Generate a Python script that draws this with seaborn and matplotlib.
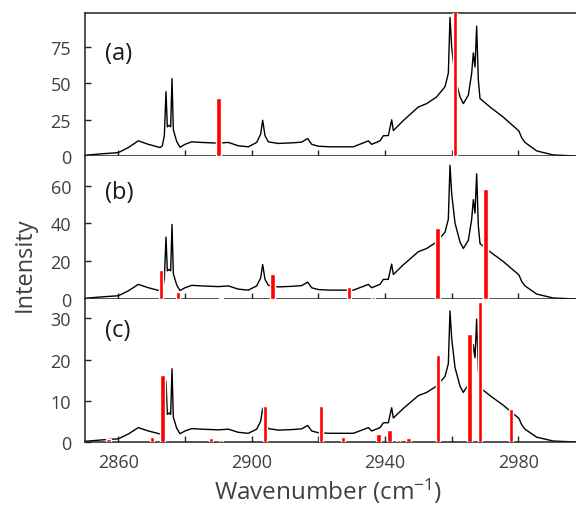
import numpy as np
import pandas as pd
import matplotlib.pyplot as plt
import seaborn as sns
from matplotlib.ticker import MultipleLocator, FixedLocator

# spectrum; panels (b) and (c) show the same trace at lower intensity
wavenumber = [2850, 2855, 2860, 2863, 2866, 2869, 2872.5, 2873.2, 2873.8, 2874.3, 2874.7,
              2875.2, 2875.7, 2876.1, 2876.5, 2877.5, 2878.5, 2880, 2882, 2885, 2890, 2893,
              2896, 2899, 2901.5, 2902.7, 2903.3, 2904, 2905, 2908, 2912, 2915, 2916.8, 2918,
              2920, 2923.5, 2930.5, 2933.5, 2935, 2936, 2938.5, 2939.5, 2941, 2942, 2942.5,
              2945.5, 2950, 2952.5, 2955.5, 2958, 2959, 2959.5, 2960, 2961, 2962.5, 2963.5,
              2965, 2966, 2966.5, 2967, 2967.5, 2968, 2968.5, 2971.5, 2975.5, 2978.5, 2979.5,
              2980.2, 2981, 2982, 2985.5, 2990.5, 2997.5]
intensity = [0.5, 1.5, 2.3, 5.8, 10.4, 8, 5.8, 7, 14, 44, 20,
             21, 20, 53, 18, 10, 6, 8, 9.7, 9.3, 8.8, 9.3,
             7, 6.3, 9.3, 15, 24.5, 14, 9.7, 8.6, 9, 9.5, 12, 8,
             6.7, 6.3, 6.3, 9, 10.4, 8, 10.4, 13.9, 14, 24.8, 17.4,
             24.3, 33.6, 35.9, 40.5, 47.5, 56.7, 95, 75, 54, 40.5, 35.9,
             41.7, 56.7, 70.6, 61, 89, 52, 39.4, 33.6, 26.6, 20.5, 18.5,
             17, 12.5, 9.3, 3.5, 0.7, 0]

panels = ['(a)', '(b)', '(c)']
scales = [1.0, 0.745, 0.335]
ylims = [98, 75.7, 34.7]
ystep = [25, 20, 10]
label_y = [0.72, 0.75, 0.785]

xticks_major = [2860, 2900, 2940, 2980]
xticks_minor = [2880, 2920, 2960]

sticks_a_pos = [2890, 2961]
sticks_a_h = [40, 100]
sticks_b_pos = [2872.8, 2877.8, 2890.7, 2906.2, 2929.2, 2936.3, 2955.7, 2970.2]
sticks_b_h = [15.5, 3.9, 0.7, 13.3, 6.2, 1.2, 37.7, 58.1]
sticks_c_pos = [2857, 2870, 2873.2, 2887.8, 2890.7, 2904, 2920.8, 2927.3, 2938, 2941.3,
                2943.8, 2947, 2955.8, 2965.3, 2968.5, 2977.8]
sticks_c_h = [0.8, 1.3, 16.3, 1.0, 0.5, 8.8, 8.8, 1.3, 1.9, 3.0,
              0.6, 1.0, 21.1, 26.3, 34.0, 8.1]
sticks = [(sticks_a_pos, sticks_a_h), (sticks_b_pos, sticks_b_h), (sticks_c_pos, sticks_c_h)]

sns.set_style('ticks')
plt.rcParams['font.family'] = ['Open Sans', 'DejaVu Sans']
plt.rcParams['mathtext.default'] = 'regular'
grey = '#404040'

fig, axes = plt.subplots(3, 1, figsize=(5.76, 5.06), dpi=100, sharex=True)
fig.subplots_adjust(left=85 / 576, right=1.0, top=1 - 14 / 506, bottom=1 - 443 / 506, hspace=0)

for i, ax in enumerate(axes):
    df = pd.DataFrame({'wn': wavenumber, 'I': np.array(intensity) * scales[i]})
    sns.lineplot(data=df, x='wn', y='I', ax=ax, color='black', lw=1.0,
                 estimator=None, sort=False)
    ax.bar(sticks[i][0], sticks[i][1], width=1.3, color='#ff0000', zorder=3)
    ax.set_xlim(2850, 2997.3)
    ax.set_ylim(0, ylims[i])
    ax.yaxis.set_major_locator(MultipleLocator(ystep[i]))
    ax.xaxis.set_major_locator(FixedLocator(xticks_major))
    ax.xaxis.set_minor_locator(FixedLocator(xticks_minor))
    ax.set_xlabel('')
    ax.set_ylabel('')
    ax.tick_params(axis='both', which='both', direction='in', length=4, width=1,
                   colors='#222222', labelcolor=grey, labelsize=13)
    ax.tick_params(axis='y', pad=10)
    ax.tick_params(axis='x', pad=8)
    ax.spines['right'].set_visible(False)
    if i > 0:
        ax.spines['top'].set_visible(False)
    for s in ['left', 'bottom', 'top']:
        ax.spines[s].set_linewidth(1.1)
        ax.spines[s].set_color('#222222')
    ax.text(0.04, label_y[i], panels[i], transform=ax.transAxes, va='center', ha='left',
            fontsize=17, color='#1a1a1a')

fig.text(25 / 576, 1 - 265 / 506, 'Intensity', rotation=90, va='center', ha='center',
         fontsize=17, color=grey)
fig.text(328 / 576, 1 - 491 / 506, 'Wavenumber (cm$^{-1}$)', va='center', ha='center',
         fontsize=17.5, color=grey)

fig.savefig('out.png', dpi=100)
